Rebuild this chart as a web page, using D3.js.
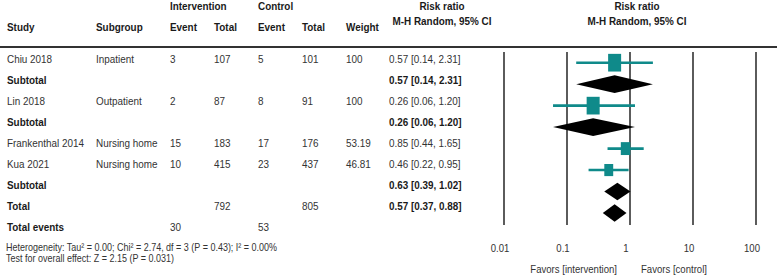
<!DOCTYPE html>
<html>
<head>
<meta charset="utf-8">
<script src="https://cdn.jsdelivr.net/npm/d3@7"></script>
<style>
  body { margin: 0; background: #fff; }
  svg { display: block; font-family: "Liberation Sans", Arial, sans-serif; }
</style>
</head>
<body>
<svg width="777" height="275"></svg>
<script>
// rows of the table, top to bottom
const labels = ["Chiu 2018", "Subtotal", "Lin 2018", "Subtotal", "Frankenthal 2014", "Kua 2021", "Subtotal", "Total", "Total events"];
const kinds = ["study", "sub", "study", "sub", "study", "study", "sub", "sub", "events"];
const subgroups = ["Inpatient", "", "Outpatient", "", "Nursing home", "Nursing home", "", "", ""];
const intEvent = ["3", "", "2", "", "15", "10", "", "", "30"];
const intTotal = ["107", "", "87", "", "183", "415", "", "792", ""];
const ctlEvent = ["5", "", "8", "", "17", "23", "", "", "53"];
const ctlTotal = ["101", "", "91", "", "176", "437", "", "805", ""];
const weights = [100, null, 100, null, 53.19, 46.81, null, null, null];
const rr = [0.57, 0.57, 0.26, 0.26, 0.85, 0.46, 0.63, 0.57, null];
const lo = [0.14, 0.14, 0.06, 0.06, 0.44, 0.22, 0.39, 0.37, null];
const hi = [2.31, 2.31, 1.20, 1.20, 1.65, 0.95, 1.02, 0.88, null];
const ticks = [0.01, 0.1, 1, 10, 100];

const svg = d3.select("svg");
const sx = 0.84; // the figure text is horizontally squeezed

const rowY = d3.scaleLinear().domain([0, 8]).range([58.5, 226.5]);
const markY = d3.scaleLinear().domain([0, 7]).range([62.7, 213]);
const x = d3.scaleLog().domain([0.01, 100]).range([504, 756]);
const boxW = d3.scaleSqrt().domain([0, 100]).range([0, 13]);

const txt = (x0, y0, s, o = {}) => {
	svg.append("text")
		.attr("transform", `translate(${x0},${y0}) scale(${o.sx || sx},1)`)
		.attr("dominant-baseline", "central")
		.attr("text-anchor", o.anchor || "start")
		.attr("font-size", o.size || 11.8)
		.attr("font-weight", o.bold ? "bold" : "normal")
		.attr("fill", o.bold ? "#1a1a1a" : "#333")
		.text(s);
};

// header
txt(170, 6, "Intervention", { bold: true });
txt(258, 6, "Control", { bold: true });
txt(442, 6, "Risk ratio", { bold: true, anchor: "middle" });
txt(442, 20.5, "M-H Random, 95% CI", { bold: true, anchor: "middle" });
txt(637, 6, "Risk ratio", { bold: true, anchor: "middle" });
txt(637, 20.5, "M-H Random, 95% CI", { bold: true, anchor: "middle" });
const hy = 27;
txt(7, hy, "Study", { bold: true });
txt(96, hy, "Subgroup", { bold: true });
txt(170, hy, "Event", { bold: true });
txt(214, hy, "Total", { bold: true });
txt(258, hy, "Event", { bold: true });
txt(302, hy, "Total", { bold: true });
txt(346, hy, "Weight", { bold: true });

svg.append("line")
	.attr("x1", 0).attr("x2", 777).attr("y1", 47).attr("y2", 47)
	.attr("stroke", "#333").attr("stroke-width", 2);

// table body
labels.forEach((lab, i) => {
	const y = rowY(i);
	const b = kinds[i] !== "study";
	txt(7, y, lab, { bold: b });
	txt(96, y, subgroups[i]);
	txt(170, y, intEvent[i]);
	txt(214, y, intTotal[i]);
	txt(258, y, ctlEvent[i]);
	txt(302, y, ctlTotal[i]);
	if (weights[i] != null) txt(346, y, String(weights[i]));
	if (rr[i] != null) {
		const f = d3.format(".2f");
		txt(389, y, `${f(rr[i])} [${f(lo[i])}, ${f(hi[i])}]`, { bold: b });
	}
});

// grid lines
svg.selectAll("line.grid").data(ticks).enter().append("line")
	.attr("class", "grid")
	.attr("x1", d => x(d)).attr("x2", d => x(d))
	.attr("y1", 52).attr("y2", 225)
	.attr("stroke", "#333").attr("stroke-width", 1.6);

ticks.forEach(t => txt(x(t) - 4, 247.5, d3.format("~g")(t), { anchor: "middle", size: 11.4 }));
txt(x(1) - 13, 268.5, "Favors [intervention]", { anchor: "end", size: 11.4 });
txt(x(1) + 11, 268.5, "Favors [control]", { size: 11.4 });

// studies
const idx = d3.range(8);
const studies = idx.filter(i => kinds[i] === "study");
const subs = idx.filter(i => kinds[i] === "sub");
const teal = "#0f8a8a";

svg.selectAll("line.ci").data(studies).enter().append("line")
	.attr("class", "ci")
	.attr("x1", i => x(lo[i])).attr("x2", i => x(hi[i]))
	.attr("y1", i => markY(i)).attr("y2", i => markY(i))
	.attr("stroke", teal).attr("stroke-width", 2.6);

svg.selectAll("rect.box").data(studies).enter().append("rect")
	.attr("class", "box")
	.attr("x", i => x(rr[i]) - boxW(weights[i]) / 2)
	.attr("y", i => markY(i) - boxW(weights[i]) * 0.68)
	.attr("width", i => boxW(weights[i]))
	.attr("height", i => boxW(weights[i]) * 1.36)
	.attr("fill", teal);

svg.selectAll("path.dia").data(subs).enter().append("path")
	.attr("class", "dia")
	.attr("d", i => {
		const y = markY(i), h = 8.8;
		return `M${x(lo[i])},${y}L${x(rr[i])},${y - h}L${x(hi[i])},${y}L${x(rr[i])},${y + h}Z`;
	})
	.attr("fill", "#000");

// footnotes
txt(6, 247.5, "Heterogeneity: Tau² = 0.00; Chi² = 2.74, df = 3 (P = 0.43); I² = 0.00%", { size: 10.7 });
txt(6, 258, "Test for overall effect: Z = 2.15 (P = 0.031)", { size: 10.7 });
</script>
</body>
</html>
